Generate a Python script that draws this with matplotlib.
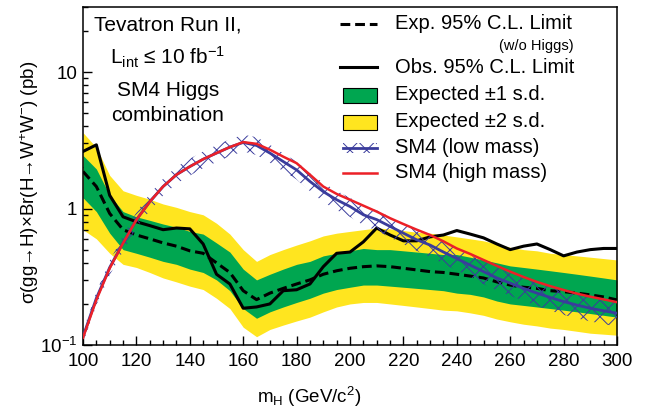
import numpy as np
import matplotlib
matplotlib.use("Agg")
import matplotlib.pyplot as plt
from matplotlib.lines import Line2D
from matplotlib.patches import Rectangle

plt.rcParams['font.family'] = ['Liberation Sans', 'DejaVu Sans']
plt.rcParams['mathtext.fontset'] = 'custom'
plt.rcParams['mathtext.rm'] = 'Liberation Sans'
plt.rcParams['mathtext.it'] = 'Liberation Sans:italic'
plt.rcParams['mathtext.bf'] = 'Liberation Sans:bold'
plt.rcParams['mathtext.default'] = 'regular'
plt.rcParams['hatch.linewidth'] = 0.7

# Higgs mass points (GeV/c^2)
mass = list(range(100, 305, 5))

# expected 95% CL limit (pb)
exp_limit = [1.87, 1.45, 0.92, 0.70, 0.64, 0.60, 0.56, 0.53, 0.49, 0.47,
             0.40, 0.34, 0.25, 0.215, 0.24, 0.26, 0.28, 0.30, 0.33, 0.35,
             0.365, 0.375, 0.38, 0.375, 0.365, 0.355, 0.345, 0.34, 0.33, 0.32,
             0.31, 0.29, 0.275, 0.265, 0.26, 0.25, 0.246, 0.24, 0.233, 0.225,
             0.214]

# observed 95% CL limit (pb)
obs_limit = [2.62, 2.93, 1.25, 0.87, 0.80, 0.75, 0.70, 0.72, 0.71, 0.55,
             0.33, 0.28, 0.186, 0.19, 0.20, 0.25, 0.254, 0.28, 0.375, 0.47,
             0.48, 0.57, 0.72, 0.64, 0.58, 0.58, 0.62, 0.64, 0.69, 0.65,
             0.61, 0.55, 0.50, 0.53, 0.55, 0.50, 0.45, 0.48, 0.50, 0.51,
             0.51]

# +-1 s.d. band
band1_hi = [2.45, 1.95, 1.25, 0.95, 0.87, 0.82, 0.77, 0.73, 0.68, 0.65,
            0.56, 0.48, 0.36, 0.30, 0.33, 0.36, 0.39, 0.41, 0.45, 0.47,
            0.49, 0.51, 0.50, 0.50, 0.49, 0.48, 0.47, 0.46, 0.46, 0.44,
            0.42, 0.40, 0.38, 0.37, 0.36, 0.35, 0.34, 0.33, 0.32, 0.31,
            0.30]
band1_lo = [1.20, 0.95, 0.66, 0.50, 0.47, 0.44, 0.41, 0.39, 0.36, 0.34,
            0.30, 0.25, 0.185, 0.157, 0.175, 0.19, 0.205, 0.22, 0.24, 0.255,
            0.265, 0.275, 0.275, 0.27, 0.265, 0.26, 0.255, 0.25, 0.24, 0.235,
            0.225, 0.21, 0.20, 0.195, 0.19, 0.185, 0.18, 0.175, 0.17, 0.165,
            0.16]

# +-2 s.d. band
band2_hi = [3.6, 2.8, 1.75, 1.35, 1.25, 1.17, 1.08, 1.02, 0.95, 0.90,
            0.78, 0.65, 0.50, 0.41, 0.46, 0.50, 0.54, 0.58, 0.63, 0.66,
            0.68, 0.70, 0.72, 0.71, 0.69, 0.67, 0.66, 0.64, 0.62, 0.60,
            0.58, 0.55, 0.52, 0.50, 0.49, 0.47, 0.46, 0.45, 0.44, 0.43,
            0.42]
band2_lo = [0.70, 0.60, 0.47, 0.39, 0.37, 0.34, 0.31, 0.29, 0.27, 0.255,
            0.22, 0.185, 0.135, 0.115, 0.13, 0.14, 0.15, 0.16, 0.175, 0.19,
            0.20, 0.205, 0.205, 0.20, 0.195, 0.19, 0.185, 0.18, 0.178, 0.172,
            0.165, 0.155, 0.148, 0.142, 0.138, 0.133, 0.13, 0.126, 0.122, 0.12,
            0.118]

# SM4 prediction, low-mass and high-mass calculations (pb)
sm4_low = [0.115, 0.22, 0.37, 0.56, 0.83, 1.12, 1.45, 1.77, 2.03, 2.30,
           2.55, 2.82, 3.05, 2.90, 2.55, 2.21, 1.92, 1.58, 1.33, 1.16,
           1.035, 0.90, 0.83, 0.74, 0.66, 0.59, 0.54, 0.48, 0.43, 0.385,
           0.345, 0.31, 0.284, 0.26, 0.24, 0.223, 0.208, 0.196, 0.186, 0.178,
           0.171]
sm4_low_unc = [0.10, 0.11, 0.12, 0.13, 0.13, 0.14, 0.14, 0.14, 0.14, 0.14,
               0.14, 0.14, 0.14, 0.15, 0.15, 0.15, 0.15, 0.15, 0.16, 0.16,
               0.16, 0.16, 0.17, 0.17, 0.17, 0.17, 0.18, 0.18, 0.18, 0.18,
               0.19, 0.19, 0.19, 0.19, 0.19, 0.20, 0.20, 0.20, 0.20, 0.20,
               0.20]
sm4_high = [0.113, 0.214, 0.365, 0.557, 0.826, 1.12, 1.45, 1.77, 2.03, 2.30,
            2.55, 2.82, 3.07, 2.98, 2.70, 2.40, 2.15, 1.77, 1.45, 1.28,
            1.16, 1.05, 0.95, 0.85, 0.77, 0.70, 0.64, 0.575, 0.51, 0.465,
            0.42, 0.38, 0.345, 0.315, 0.29, 0.27, 0.253, 0.238, 0.226, 0.216,
            0.206]

GREEN = '#00a650'
YELLOW = '#ffe51f'
BLUE = '#3a3c9c'
RED = '#ec2027'

fig = plt.figure(figsize=(6.59, 4.11), dpi=100)
ax = fig.add_axes([83/659, 1 - 345/411, 534/659, 338/411])

m = np.array(mass)
low = np.array(sm4_low)
unc = np.array(sm4_low_unc)

ax.fill_between(m, band2_lo, band2_hi, color=YELLOW, lw=0, zorder=1)
ax.fill_between(m, band1_lo, band1_hi, color=GREEN, lw=0, zorder=2)
ax.plot(m, exp_limit, color='black', lw=2.2, ls=(0, (3.2, 1.6)), zorder=3)
ax.plot(m, obs_limit, color='black', lw=2.2, zorder=4)
ax.fill_between(m, low * (1 - unc), low * (1 + unc), facecolor='none',
                edgecolor=BLUE, hatch='xx', lw=0, zorder=5)
ax.plot(m, low, color=BLUE, lw=2.0, zorder=6)
ax.plot(m, sm4_high, color=RED, lw=1.8, zorder=7)

ax.set_yscale('log')
ax.set_xlim(100, 300)
ax.set_ylim(0.1, 30)
ax.set_xticks(range(100, 301, 20))
ax.set_xticks(range(100, 301, 5), minor=True)
ax.set_yticks([0.1, 1, 10])
ax.set_yticklabels(['10$^{-1}$', '1', '10'])
ax.tick_params(which='both', direction='in', top=False, right=False,
               labelsize=13.5)
ax.tick_params(which='major', length=6.5, width=1)
ax.tick_params(which='minor', length=3.6, width=1)
ax.tick_params(axis='x', pad=6)
ax.tick_params(axis='y', pad=4)
for s in ax.spines.values():
    s.set_linewidth(1.1)

ax.set_xlabel('m$_{H}$ (GeV/c$^{2}$)', fontsize=13.5)
ax.xaxis.set_label_coords(0.423, -0.118)
ax.set_ylabel('σ(gg→H)×Br(H→W$^{+}$W$^{-}$) (pb)', fontsize=13.5)
ax.yaxis.set_label_coords(-0.078, 0.48)

# header text
tx = 0.159
ax.text(tx, 0.947, 'Tevatron Run II,', transform=ax.transAxes,
        ha='center', va='center', fontsize=15)
ax.text(tx, 0.852, 'L$_{int}$ ≤ 10 fb$^{-1}$', transform=ax.transAxes,
        ha='center', va='center', fontsize=15)
ax.text(tx, 0.754, 'SM4 Higgs', transform=ax.transAxes,
        ha='center', va='center', fontsize=15)
ax.text(tx, 0.678, 'combination', transform=ax.transAxes,
        ha='center', va='center', fontsize=15)

# legend, drawn by hand
lx0, lx1, ltx = 0.481, 0.551, 0.584
fs = 14.5
tr = ax.transAxes
ax.add_line(Line2D([lx0, lx1], [0.950, 0.950], color='black', lw=2.2,
                   ls=(0, (3.2, 1.6)), transform=tr, zorder=10))
ax.text(ltx, 0.950, 'Exp. 95% C.L. Limit', transform=tr, va='center',
        fontsize=fs)
ax.text(0.918, 0.884, '(w/o Higgs)', transform=tr, va='center', ha='right',
        fontsize=10.5)
ax.add_line(Line2D([lx0, lx1], [0.822, 0.822], color='black', lw=2.2,
                   transform=tr, zorder=10))
ax.text(ltx, 0.822, 'Obs. 95% C.L. Limit', transform=tr, va='center',
        fontsize=fs)
ax.add_patch(Rectangle((0.487, 0.716), 0.064, 0.044, transform=tr,
                       facecolor=GREEN, edgecolor='black', lw=0.8, zorder=10))
ax.text(ltx, 0.740, 'Expected ±1 s.d.', transform=tr, va='center',
        fontsize=fs)
ax.add_patch(Rectangle((0.487, 0.636), 0.064, 0.044, transform=tr,
                       facecolor=YELLOW, edgecolor='black', lw=0.8, zorder=10))
ax.text(ltx, 0.660, 'Expected ±2 s.d.', transform=tr, va='center',
        fontsize=fs)
ax.add_patch(Rectangle((0.487, 0.568), 0.064, 0.03, transform=tr,
                       facecolor='none', edgecolor=BLUE, hatch='xx', lw=0,
                       zorder=10))
ax.add_line(Line2D([0.487, 0.551], [0.583, 0.583], color=BLUE, lw=2.0,
                   transform=tr, zorder=11))
ax.text(ltx, 0.583, 'SM4 (low mass)', transform=tr, va='center',
        fontsize=fs)
ax.add_line(Line2D([0.487, 0.551], [0.509, 0.509], color=RED, lw=1.8,
                   transform=tr, zorder=10))
ax.text(ltx, 0.509, 'SM4 (high mass)', transform=tr, va='center',
        fontsize=fs)

fig.savefig('out.png', dpi=100)
